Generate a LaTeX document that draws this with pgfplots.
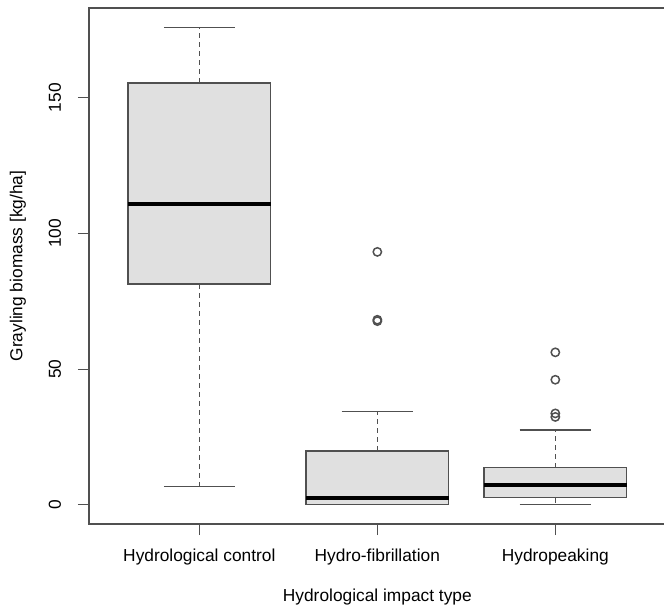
\documentclass[border=0pt]{standalone}
\usepackage{fontspec}
\setmainfont{Liberation Sans}
\usepackage{pgfplots}
\pgfplotsset{compat=1.18}
\usepgfplotslibrary{statistics}

\definecolor{boxfill}{HTML}{E0E0E0}
\definecolor{framegray}{HTML}{505050}

\begin{document}
\begin{tikzpicture}
\begin{axis}[
  scale only axis, width=346pt, height=309.6pt,
  xmin=0.38, xmax=3.62, ymin=-7.04, ymax=183.04,
  axis line style={framegray, line width=0.7pt},
  xtick={1,2,3},
  xticklabels={Hydrological control, Hydro-fibrillation, Hydropeaking},
  ytick={0,50,100,150},
  tick align=outside, major tick length=6.6pt,
  tick style={framegray, line width=0.7pt},
  xtick pos=bottom, ytick pos=left,
  font=\fontsize{10.4}{12}\selectfont,
  /pgf/number format/assume math mode=true,
  yticklabel style={rotate=90, anchor=south},
  xticklabel shift=4.8pt, yticklabel shift=6.6pt,
  xlabel={Hydrological impact type},
  ylabel={Grayling biomass [kg/ha]},
  xlabel style={at={(axis description cs:0.5,-0.1415)}, anchor=center},
  ylabel style={at={(axis description cs:-0.1231,0.5)}, anchor=center},
  boxplot/draw direction=y,
  boxplot/box extend=0.8,
  boxplot/whisker extend=0.4,
  boxplot/every box/.style={draw=framegray, fill=boxfill, line width=0.9pt},
  boxplot/every median/.style={black, line width=2.4pt},
  boxplot/draw/lower whisker/.code={
    \draw[framegray, line width=0.9pt, dash pattern=on 3pt off 2.4pt]
      (boxplot cs:\pgfplotsboxplotvalue{lower quartile}) --
      (boxplot cs:\pgfplotsboxplotvalue{lower whisker});
    \draw[framegray, line width=0.9pt]
      (boxplot whisker cs:\pgfplotsboxplotvalue{lower whisker},0) --
      (boxplot whisker cs:\pgfplotsboxplotvalue{lower whisker},1);
  },
  boxplot/draw/upper whisker/.code={
    \draw[framegray, line width=0.9pt, dash pattern=on 3pt off 2.4pt]
      (boxplot cs:\pgfplotsboxplotvalue{upper quartile}) --
      (boxplot cs:\pgfplotsboxplotvalue{upper whisker});
    \draw[framegray, line width=0.9pt]
      (boxplot whisker cs:\pgfplotsboxplotvalue{upper whisker},0) --
      (boxplot whisker cs:\pgfplotsboxplotvalue{upper whisker},1);
  },
]
% Hydrological control
\addplot[draw=framegray, mark=o, mark size=2.5pt,
  mark options={draw=framegray, line width=0.9pt},
  boxplot prepared={draw position=1,
    lower whisker=6.8, lower quartile=81.4, median=110.9,
    upper quartile=155.5, upper whisker=175.8}]
  coordinates {};
% Hydro-fibrillation
\addplot[draw=framegray, mark=o, mark size=2.5pt,
  mark options={draw=framegray, line width=0.9pt},
  boxplot prepared={draw position=2,
    lower whisker=0.2, lower quartile=0.2, median=2.7,
    upper quartile=19.9, upper whisker=34.4}]
  table[row sep=\\, y index=0] {y\\ 93.2\\ 68.2\\ 67.7\\};
% Hydropeaking
\addplot[draw=framegray, mark=o, mark size=2.5pt,
  mark options={draw=framegray, line width=0.9pt},
  boxplot prepared={draw position=3,
    lower whisker=0.2, lower quartile=2.7, median=7.2,
    upper quartile=13.7, upper whisker=27.5}]
  table[row sep=\\, y index=0] {y\\ 56.2\\ 46.1\\ 33.7\\ 32.4\\};
\end{axis}
\pgfresetboundingbox
\useasboundingbox (-53.4pt,-52.2pt) rectangle (345pt,314.4pt);
\end{tikzpicture}
\end{document}
